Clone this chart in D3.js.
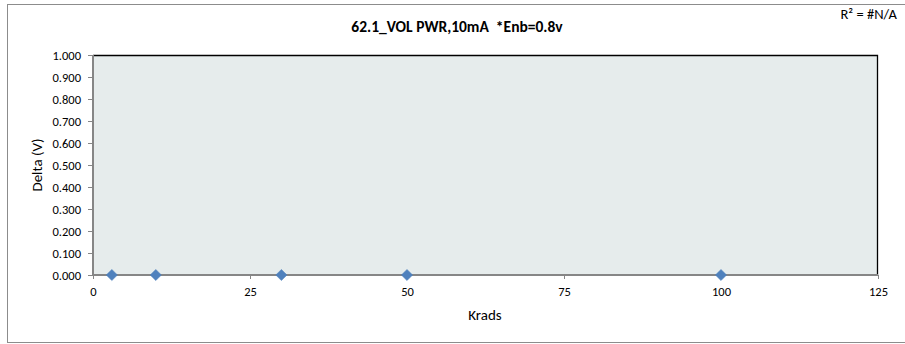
<!DOCTYPE html>
<html><head><meta charset="utf-8">
<script src="https://cdn.jsdelivr.net/npm/d3@7"></script>
<style>body{margin:0;background:#fff;}svg{display:block;font-family:Carlito,Calibri,"Liberation Sans",Arial,sans-serif;}</style>
</head><body><svg id="c" width="905" height="344"></svg>
<script>
const krads = [3, 10, 30, 50, 100];
const delta = [0, 0, 0, 0, 0];
const xTicks = [0, 25, 50, 75, 100, 125];
const yTicks = [0, 0.1, 0.2, 0.3, 0.4, 0.5, 0.6, 0.7, 0.8, 0.9, 1.0];
const title = "62.1_VOL PWR,10mA  *Enb=0.8v";
const rsq = "R² = #N/A";

const svg = d3.select("#c");
const L = 93, R = 878, T = 55, B = 275;
const x = d3.scaleLinear().domain([0, 125]).range([L, R]);
const y = d3.scaleLinear().domain([0, 1]).range([B, T]);
const FF = "Carlito,Calibri,'Liberation Sans',sans-serif";

svg.append("rect").attr("x", 7.5).attr("y", 4.5).attr("width", 1000).attr("height", 338)
  .attr("fill", "#fff").attr("stroke", "#8c8c8c").attr("stroke-width", 1);

svg.append("rect").attr("x", L).attr("y", T).attr("width", R - L).attr("height", B - T)
  .attr("fill", "#e6ecec");
svg.append("path").attr("d", `M${L},${T+0.5}H${R-0.5}V${B}`).attr("fill","none").attr("stroke","#000").attr("stroke-width",1.3);

const xa = svg.append("g").attr("transform", `translate(0,${B})`)
  .call(d3.axisBottom(x).tickValues(xTicks).tickSize(4).tickFormat(d3.format("d")));
xa.select(".domain").attr("stroke", "#868686").attr("stroke-width", 2).attr("d", `M${L},0H${R}`);
xa.selectAll(".tick line").attr("stroke", "#868686");
xa.selectAll("text").attr("font-size", 12.5).attr("fill", "#000").attr("y", 12).attr("dy", "0.75em").attr("font-family", FF);

const ya = svg.append("g").attr("transform", `translate(${L},0)`)
  .call(d3.axisLeft(y).tickValues(yTicks).tickSize(5).tickFormat(d3.format(".3f")));
ya.select(".domain").attr("stroke", "#868686").attr("stroke-width", 2).attr("d", `M0,${T}V${B}`);
ya.selectAll(".tick line").attr("stroke", "#868686");
ya.selectAll("text").attr("font-size", 12.5).attr("fill", "#000").attr("x", -12).attr("font-family", FF);

svg.append("g").selectAll("path").data(krads).join("path")
  .attr("d", d3.symbol().type(d3.symbolDiamond2).size(80))
  .attr("transform", (d, i) => `translate(${x(d)},${y(delta[i])})`)
  .attr("fill", "#4f81bd").attr("stroke", "#4a7ebb").attr("stroke-width", 0.5);

svg.append("text").attr("x", 457).attr("y", 32).attr("text-anchor", "middle")
  .attr("font-size", 15.5).attr("font-weight", "bold").style("white-space", "pre").text(title);
svg.append("text").attr("x", 897).attr("y", 19).attr("text-anchor", "end")
  .attr("font-size", 14.5).text(rsq);
svg.append("text").attr("transform", `translate(42,${(T+B)/2}) rotate(-90)`).attr("text-anchor", "middle")
  .attr("font-size", 15).text("Delta (V)");
svg.append("text").attr("x", 485).attr("y", 320).attr("text-anchor", "middle")
  .attr("font-size", 15).text("Krads");
</script></body></html>
